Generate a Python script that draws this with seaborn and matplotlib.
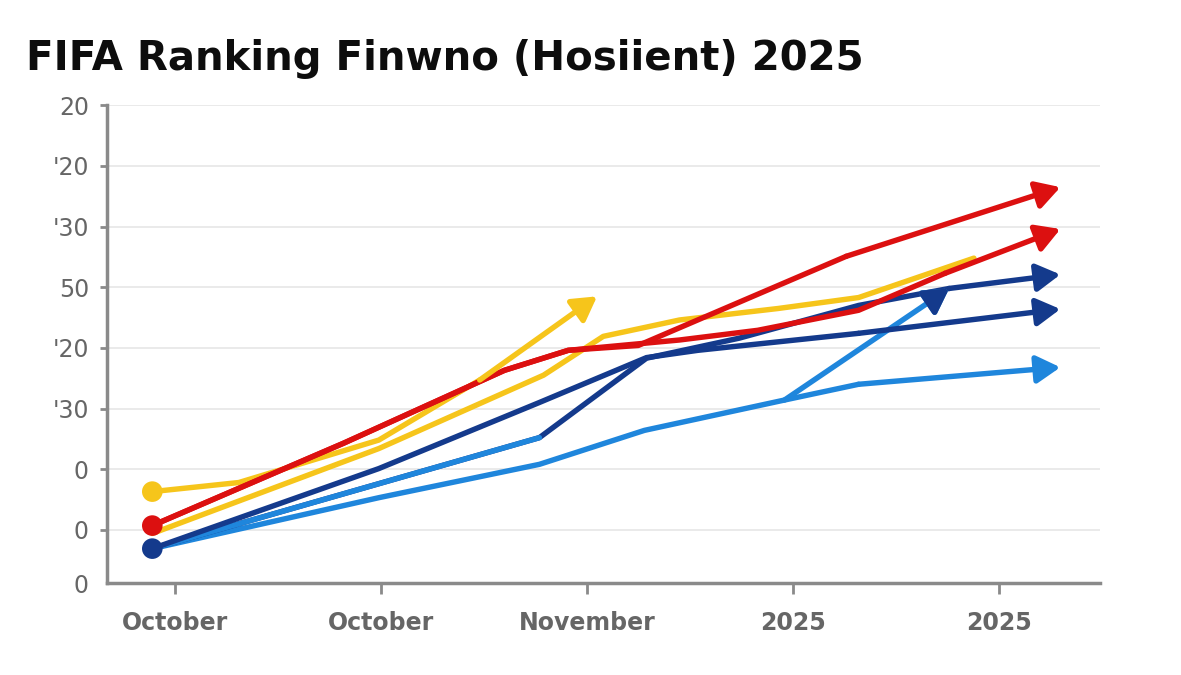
import numpy as np
import pandas as pd
import matplotlib
matplotlib.use("Agg")
import matplotlib.pyplot as plt
import seaborn as sns

# tick labels as printed on the chart
x_labels = ["October", "October", "November", "2025", "2025"]
y_labels = ["0", "0", "0", "'30", "'20", "50", "'30", "'20", "20"]

# series values (x in tick units, y in tick units)
yellow_a_x = [-0.11, 0.31, 0.99, 1.48, 2.05]
yellow_a_y = [1.63, 1.78, 2.48, 3.47, 4.85]

yellow_b_x = [-0.11, 0.99, 1.79, 2.08, 2.45, 2.93, 3.32, 3.88]
yellow_b_y = [0.94, 2.34, 3.55, 4.19, 4.46, 4.65, 4.83, 5.48]

red_a_x = [-0.11, 0.82, 1.60, 1.91, 2.45, 2.83, 3.32, 3.74, 4.30]
red_a_y = [1.07, 2.43, 3.63, 3.96, 4.13, 4.29, 4.62, 5.23, 5.96]

red_b_x = [-0.11, 0.82, 1.60, 1.91, 2.25, 3.26, 4.30]
red_b_y = [1.07, 2.43, 3.63, 3.96, 4.04, 5.51, 6.65]

navy_a_x = [-0.11, 0.99, 1.77, 2.29, 2.54, 3.32, 4.30]
navy_a_y = [0.69, 2.01, 3.10, 3.84, 3.96, 4.24, 4.64]

navy_b_x = [-0.11, 1.77, 2.29, 2.74, 3.32, 3.76, 4.30]
navy_b_y = [0.69, 2.52, 3.83, 4.16, 4.70, 4.98, 5.21]

blue_a_x = [-0.11, 0.99, 1.77, 2.28, 2.96, 3.32, 4.30]
blue_a_y = [0.69, 1.53, 2.08, 2.64, 3.14, 3.40, 3.68]

blue_b_x = [2.96, 3.76]
blue_b_y = [3.14, 4.98]

YELLOW = "#f6c51b"
RED = "#dc1010"
NAVY = "#143a8c"
BLUE = "#1f86dc"
GRAY = "#8a8a8a"
TXT = "#666666"

sns.set_style("white")
plt.rcParams["font.family"] = ["DejaVu Sans"]

fig = plt.figure(figsize=(11.81, 6.75), dpi=100)
ax = fig.add_axes([0.0906, 0.136, 0.8404, 0.708])

LW = 3.9
HEAD = "-|>,head_length=0.45,head_width=0.26"

def arrow(p0, p1, color):
    ax.annotate("", xy=p1, xytext=p0,
                arrowprops=dict(arrowstyle=HEAD, color=color, lw=LW,
                                shrinkA=0, shrinkB=0, mutation_scale=32),
                zorder=4)

def draw(xs, ys, color, has_arrow=True, head_color=None):
    n = len(xs) - 1 if has_arrow else len(xs)
    if n >= 2:
        sns.lineplot(x=xs[:n], y=ys[:n], color=color, lw=LW, sort=False, ax=ax,
                     solid_joinstyle="round", solid_capstyle="round", zorder=3)
    if has_arrow:
        arrow((xs[-2], ys[-2]), (xs[-1], ys[-1]), color)
        if head_color:
            # only the head takes the other colour
            mid = (xs[-2] + 0.93 * (xs[-1] - xs[-2]), ys[-2] + 0.93 * (ys[-1] - ys[-2]))
            arrow(mid, (xs[-1], ys[-1]), head_color)

draw(blue_a_x, blue_a_y, BLUE)
draw(navy_b_x, navy_b_y, NAVY)
# first leg of this line is drawn in the lighter blue
sns.lineplot(x=navy_b_x[:2], y=navy_b_y[:2], color=BLUE, lw=LW, sort=False, ax=ax,
             solid_capstyle="round", zorder=3)
draw(blue_b_x, blue_b_y, BLUE, head_color=NAVY)
draw(navy_a_x, navy_a_y, NAVY)
draw(yellow_b_x, yellow_b_y, YELLOW, has_arrow=False)
draw(yellow_a_x, yellow_a_y, YELLOW)
draw(red_b_x, red_b_y, RED)
draw(red_a_x, red_a_y, RED)

# start markers
start_df = pd.DataFrame({"x": [yellow_a_x[0], red_a_x[0], navy_a_x[0]],
                         "y": [yellow_a_y[0], red_a_y[0], navy_a_y[0]],
                         "c": ["y", "r", "n"]})
sns.scatterplot(data=start_df, x="x", y="y", hue="c",
                palette={"y": YELLOW, "r": RED, "n": NAVY},
                s=220, edgecolor="none", legend=False, ax=ax, zorder=5)

ax.set_xlim(-0.33, 4.49)
ax.set_ylim(0.12, 8.0)
ax.set_xticks(range(len(x_labels)))
ax.set_xticklabels(x_labels, fontsize=17, fontweight="bold", color=TXT)
ax.set_yticks([0.12] + list(range(1, 9)))
ax.set_yticklabels(y_labels, fontsize=17, color=TXT)
ax.set_xlabel("")
ax.set_ylabel("")

ax.grid(axis="y", color="#e6e6e6", lw=1.2, zorder=0)
ax.grid(axis="x", visible=False)
for s in ["top", "right"]:
    ax.spines[s].set_visible(False)
for s in ["left", "bottom"]:
    ax.spines[s].set_color(GRAY)
    ax.spines[s].set_linewidth(2.5)
ax.tick_params(axis="y", length=5, width=2, color=GRAY, pad=8, left=True)
ax.tick_params(axis="x", length=8, width=2, color=GRAY, pad=12, bottom=True)
ax.yaxis.get_major_ticks()[0].tick1line.set_visible(False)

fig.text(0.022, 0.896, "FIFA Ranking Finwno (Hosiient) 2025", fontsize=29,
         fontweight="bold", color="#0d0d0d", va="baseline")

fig.savefig("out.png", dpi=100, facecolor="white")
